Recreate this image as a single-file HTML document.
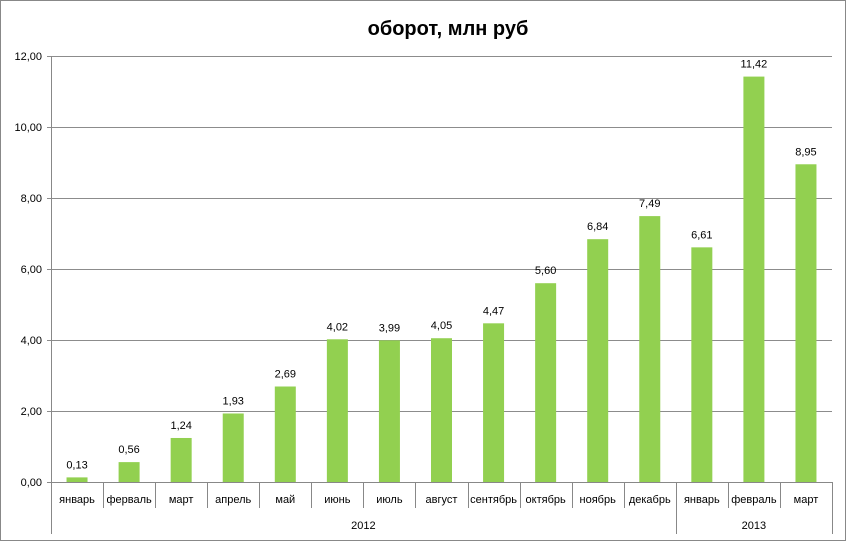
<!DOCTYPE html>
<html><head><meta charset="utf-8"><style>
body{margin:0;background:#fff}
svg{display:block;font-family:"Liberation Sans","DejaVu Sans",sans-serif}
</style></head><body>
<svg id="c" width="846" height="542">
<rect x="0.5" y="0.5" width="845" height="540" fill="#fff" stroke="#888"/>
<text x="448" y="35" text-anchor="middle" font-size="20" font-weight="bold">оборот, млн руб</text>
<g id="g"></g>
</svg>
<script>
const categories=["январь","ферваль","март","апрель","май","июнь","июль","август","сентябрь","октябрь","ноябрь","декабрь","январь","февраль","март"];
const values=[0.13,0.56,1.24,1.93,2.69,4.02,3.99,4.05,4.47,5.60,6.84,7.49,6.61,11.42,8.95];
const yTicks=[0,2,4,6,8,10,12];
const years=["2012","2013"];
const yearSpans=[12,3];
const L=51,R=832,T=56,B=482,yMax=12;
const y=v=>B-(v/yMax)*(B-T);
const cw=(R-L)/categories.length;
const x=i=>L+i*cw;
const g=document.getElementById('g');
const NS="http://www.w3.org/2000/svg";
function mk(t,a,txt){const e=document.createElementNS(NS,t);for(const k in a)e.setAttribute(k,a[k]);if(txt!==undefined)e.textContent=txt;g.appendChild(e);return e;}
yTicks.forEach(v=>{
 const l=mk('line',{x1:L-4,x2:R,y1:y(v)+0.5,y2:y(v)+0.5,stroke:v===0?'#888':'#8c8c8c','stroke-width':1});
 
 
 const t=mk('text',{x:L-9,y:y(v)+4,'text-anchor':'end','font-size':11},v.toFixed(2).replace('.',','));
 
 
});
const ax=mk('line',{x1:L+0.5,x2:L+0.5,y1:T,y2:534,stroke:'#888'});


values.forEach((v,i)=>{
 const cx=x(i)+cw/2;
 const b=mk('rect',{x:cx-10.5,y:y(v),width:21,height:B-y(v),fill:'#92d050'});
 
 
 const t=mk('text',{x:cx,y:y(v)-9,'text-anchor':'middle','font-size':11},v.toFixed(2).replace('.',','));
 
 
 const c=mk('text',{x:cx,y:503,'text-anchor':'middle','font-size':11},categories[i]);
 
 
 if(i>0){const s=mk('line',{x1:Math.round(x(i))+0.5,x2:Math.round(x(i))+0.5,y1:B,y2:508,stroke:'#888'});
 
 }
});
let st=0;
years.forEach((yr,k)=>{
 const a=x(st),b=x(st+yearSpans[k]);
 const t=mk('text',{x:(a+b)/2,y:529,'text-anchor':'middle','font-size':11},yr);
 
 
 const s=mk('line',{x1:Math.round(b)+0.5,x2:Math.round(b)+0.5,y1:B,y2:534,stroke:'#888'});
 
 
 st+=yearSpans[k];
});
</script>
</body></html>
